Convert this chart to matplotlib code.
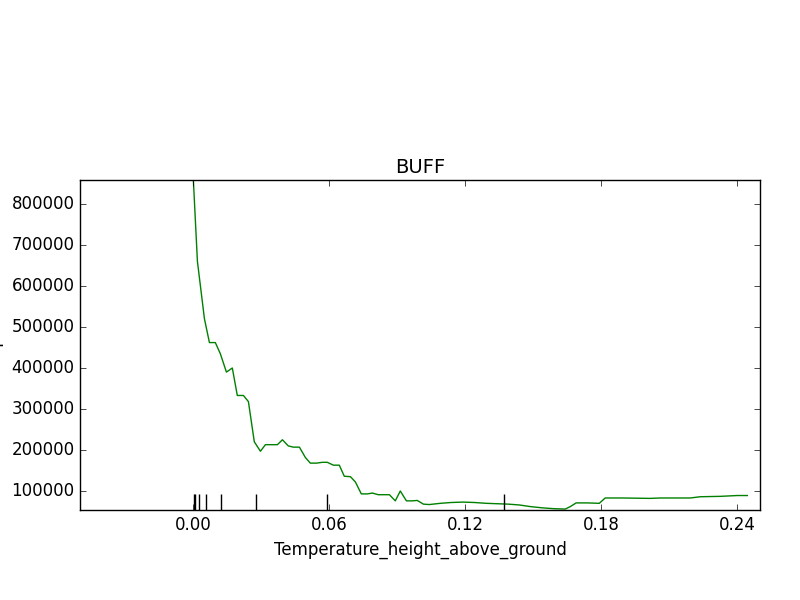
import matplotlib
matplotlib.use("Agg")
import matplotlib.pyplot as plt

# partial dependence curve
grid = [0, .0018, .0049, .0071, .0097, .0119, .0146, .0172, .0194, .0221, .0243,
        .0269, .0296, .0318, .0344, .0371, .0393, .0419, .0441, .0468, .0494,
        .0516, .0543, .0569, .0591, .0618, .0644, .0666, .0693, .0715, .0741,
        .0768, .0790, .0816, .0843, .0865, .0891, .0913, .0940, .0966, .0988,
        .1015, .1041, .1090, .1138, .1191, .1240, .1292, .1341, .1389, .1438,
        .1487, .1539, .1588, .1641, .1663, .1689, .1738, .1791, .1817, .1892,
        .2016, .2060, .2192, .2236, .2325, .2400, .2444]
pdp = [860000, 660000, 520000, 462000, 462000, 435000, 390000, 400000, 333000,
       333000, 318000, 220000, 197000, 213000, 213000, 213000, 225000, 210000,
       207000, 207000, 182000, 168000, 168000, 170000, 170000, 163000, 163000,
       136000, 135000, 122000, 93000, 93000, 95000, 91000, 91000, 91000, 76000,
       100000, 76000, 76000, 77000, 68000, 67000, 70000, 72000, 73000, 72000,
       70000, 69000, 68000, 66000, 62000, 59000, 57000, 56000, 62000, 71000,
       71000, 70000, 83000, 83000, 82000, 83000, 83000, 86000, 87000, 89000, 89000]
deciles = [0.0003, 0.0008, 0.0025, 0.0058, 0.0122, 0.0275, 0.059, 0.137]

plt.style.use("classic")
fig = plt.figure(figsize=(8, 6), dpi=100)
ax = fig.add_axes([0.1, 0.15, 0.85, 0.55])
ax.plot(grid, pdp, color="green", lw=1)
ax.vlines(deciles, 0, 0.05, transform=ax.get_xaxis_transform(), color="black")
ax.set_xlim(-0.05, 0.25)
ax.set_ylim(53700, 858500)
ax.set_xticks([0.0, 0.06, 0.12, 0.18, 0.24])
ax.set_xticklabels(["0.00", "0.06", "0.12", "0.18", "0.24"])
ax.set_yticks(range(100000, 900000, 100000))
ax.tick_params(labelsize=12)
ax.set_xlabel("Temperature_height_above_ground", fontsize=12)
ax.set_ylabel("Partial dependence", fontsize=12)
ax.yaxis.set_label_coords(-0.112, 0.5)
ax.set_title("BUFF", fontsize=14)
fig.savefig("out.png")
